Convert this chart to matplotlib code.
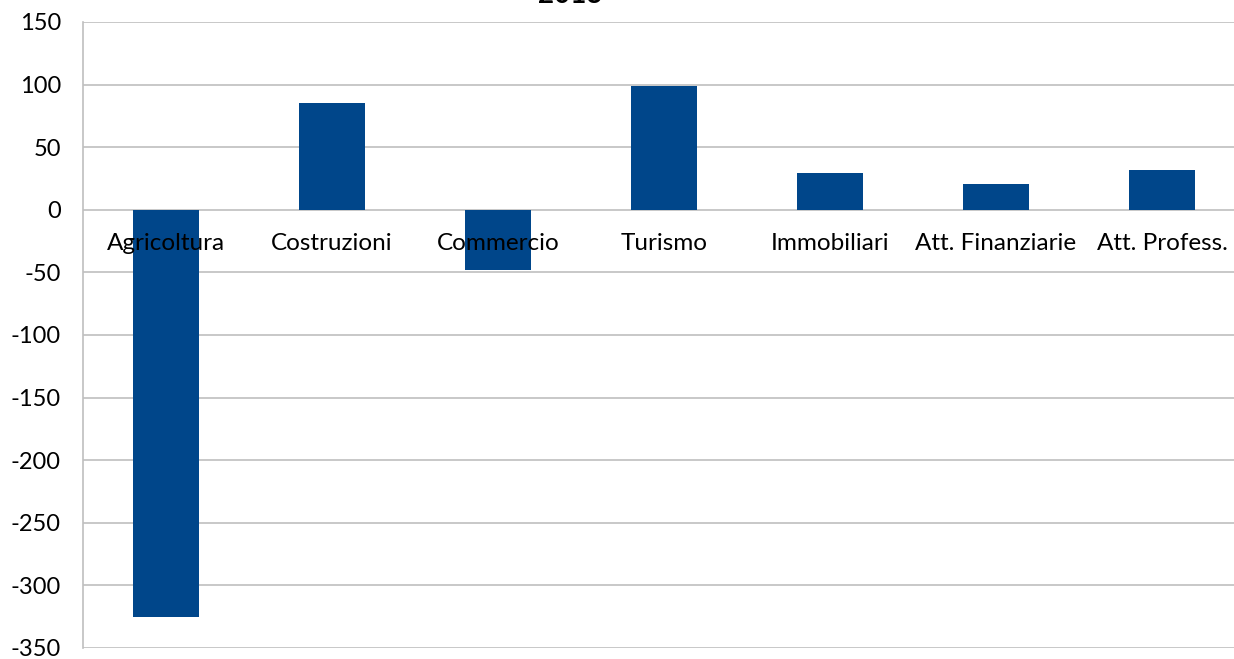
import matplotlib.pyplot as plt
import numpy as np

categories = ["Agricoltura", "Costruzioni", "Commercio", "Turismo",
              "Immobiliari", "Att. Finanziarie", "Att. Profess."]
values = [-325, 85, -48, 99, 29, 21, 32]
yticks = [150, 100, 50, 0, -50, -100, -150, -200, -250, -300, -350]
title = "2013"

plt.rcParams["font.family"] = ["Lato", "DejaVu Sans"]

fig = plt.figure(figsize=(12.34, 6.59), dpi=100)
ax = fig.add_axes([83 / 1234, 11 / 659, 1151 / 1234, 626 / 659])

x = np.arange(len(categories))
ax.bar(x, values, width=0.4, color="#00468A", zorder=3)

ax.set_ylim(-350, 150)
ax.set_xlim(-0.5, 1151 / 166 - 0.5)
ax.set_yticks(yticks)
ax.set_yticklabels([str(v) for v in yticks], fontsize=17)
ax.tick_params(axis="y", length=0, pad=16)
ax.set_xticks([])
ax.yaxis.grid(True, color="#bfbfbf", linewidth=1.2, zorder=0)

for s in ["top", "right", "bottom"]:
    ax.spines[s].set_visible(False)
ax.spines["left"].set_color("#bfbfbf")
ax.spines["left"].set_linewidth(1.2)

for xi, name in zip(x, categories):
    ax.text(xi, -27, name, ha="center", va="center", fontsize=17.5, zorder=4)

fig.text(570 / 1234, 1 - 3 / 659, title, ha="center", va="baseline",
         fontsize=20, fontweight="bold")

fig.savefig("out.png", dpi=100)
